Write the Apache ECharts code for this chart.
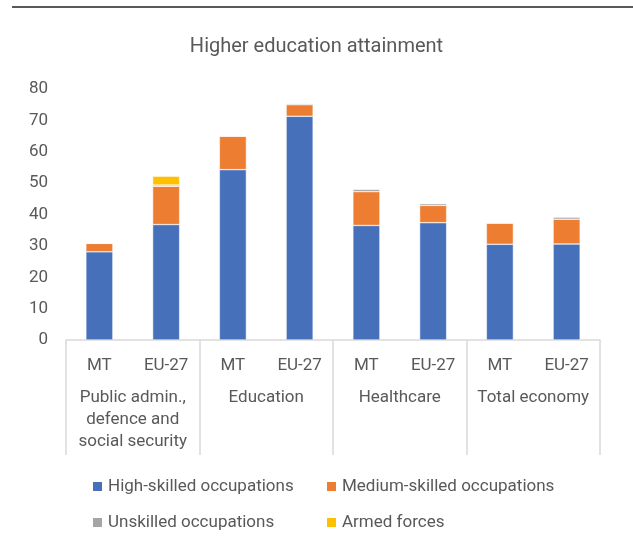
<!DOCTYPE html>
<html>
<head>
<meta charset="utf-8">
<script src="https://cdn.jsdelivr.net/npm/echarts@6/dist/echarts.min.js"></script>
<style>
  html, body { margin: 0; padding: 0; background: #fff; }
  #chart { width: 633px; height: 546px; }
</style>
</head>
<body>
<div id="chart"></div>
<script>
// bars: country within sector
const countries = ["MT", "EU-27", "MT", "EU-27", "MT", "EU-27", "MT", "EU-27"];
const sectors = ["Public admin.,\ndefence and\nsocial security", "Education", "Healthcare", "Total economy"];
// shares, %
const highSkilled = [28.1, 36.8, 54.3, 71.3, 36.5, 37.4, 30.5, 30.6];
const mediumSkilled = [2.7, 12.2, 10.7, 3.7, 10.8, 5.5, 6.8, 7.9];
const unskilled = [0.1, 0.4, 0, 0.4, 0.8, 0.6, 0, 0.7];
const armedForces = [0.1, 2.8, 0, 0, 0, 0.1, 0, 0.1];

const textColor = "#595959";
const font = "Roboto";

const chart = echarts.init(document.getElementById("chart"));

const barSeries = (name, data, color) => ({
  name: name,
  type: "bar",
  stack: "total",
  data: data,
  barWidth: 27,
  itemStyle: { color: color, borderColor: "#fff", borderWidth: 0.5 }
});

const legendBase = {
  top: 473,
  orient: "vertical",
  itemGap: 19,
  itemWidth: 11,
  itemHeight: 11,
  icon: "rect",
  textStyle: { fontSize: 17, color: textColor, fontFamily: font }
};

chart.setOption({
  animation: false,
  textStyle: { fontFamily: font },
  title: {
    text: "Higher education attainment",
    left: "center",
    top: 32,
    textStyle: { fontSize: 20, fontWeight: "normal", color: textColor, fontFamily: font }
  },
  graphic: [
    {
      type: "line",
      shape: { x1: 12, y1: 7, x2: 633, y2: 7 },
      style: { stroke: "#222", lineWidth: 1.5 }
    }
  ],
  grid: { left: 66, right: 33, top: 89, bottom: 206 },
  legend: [
    Object.assign({}, legendBase, {
      left: 86,
      data: ["High-skilled occupations", "Unskilled occupations"]
    }),
    Object.assign({}, legendBase, {
      left: 320,
      data: ["Medium-skilled occupations", "Armed forces"]
    })
  ],
  xAxis: [
    {
      type: "category",
      data: countries,
      axisLine: { lineStyle: { color: "#d9d9d9", width: 1.5 } },
      axisTick: { show: false },
      axisLabel: { fontSize: 17, color: textColor, margin: 17, interval: 0 }
    },
    {
      type: "category",
      data: sectors,
      position: "bottom",
      axisLine: { show: false },
      axisTick: { show: true, length: 115, lineStyle: { color: "#d9d9d9", width: 1.5 } },
      axisLabel: {
        fontSize: 17,
        color: textColor,
        margin: 47,
        lineHeight: 22,
        interval: 0,
        verticalAlign: "top"
      }
    }
  ],
  yAxis: {
    type: "value",
    min: 0,
    max: 80,
    interval: 10,
    axisLine: { show: false },
    axisTick: { show: false },
    splitLine: { show: false },
    axisLabel: { fontSize: 17, color: textColor, margin: 18 }
  },
  series: [
    barSeries("High-skilled occupations", highSkilled, "#4670BA"),
    barSeries("Medium-skilled occupations", mediumSkilled, "#ED7D31"),
    barSeries("Unskilled occupations", unskilled, "#A5A5A5"),
    barSeries("Armed forces", armedForces, "#FFC000")
  ]
});
</script>
</body>
</html>
